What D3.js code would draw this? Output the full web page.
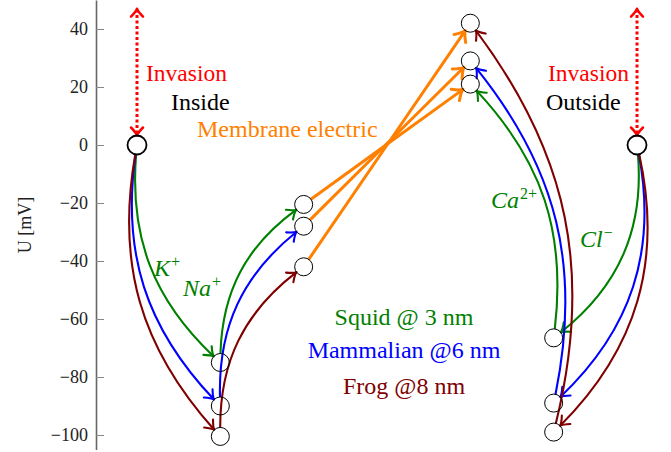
<!DOCTYPE html>
<html><head><meta charset="utf-8">
<script src="https://cdn.jsdelivr.net/npm/d3@7"></script>
<style>
body{margin:0;background:#fff}
svg{display:block}
svg text{font-family:"Liberation Serif","Times New Roman",serif;}
</style>
</head><body>
<script>
// ---- data ----
const yTicks = [-100, -80, -60, -40, -20, 0, 20, 40];
const species = ["Squid @ 3 nm", "Mammalian @6 nm", "Frog @8 nm"];
const speciesColors = ["#008000", "#0000ff", "#800000"];
const stageInside = 0, stageK = 1, stageNa = 2, stageMembrane = 4, stageCa = 5, stageOutside = 6;
const insideU = [0, 0, 0];
const kU = [-75, -90, -100.5];
const naU = [-20.5, -28, -42];
const membraneU = [21, 29, 42];
const caU = [-66.5, -89, -99];
const outsideU = [0, 0, 0];
const invasionU = 47;
const ionBase = ["K", "Na", "Ca", "Cl"];
const ionSup = ["+", "+", "2+", "−"];

// ---- layout ----
const W = 671, H = 452;
const svg = d3.select("body").append("svg").attr("width", W).attr("height", H);
const x = d3.scaleLinear().domain([0, 6]).range([137, 637]);
const y = d3.scaleLinear().domain([-105, 50]).range([449.5, 0]);
const ORANGE = "#ff8000", RED = "#ff0000";

// axis
const ax = svg.append("g").attr("transform", "translate(96,0)")
  .call(d3.axisLeft(y).tickValues(yTicks).tickSizeInner(-8).tickSizeOuter(0).tickPadding(8));
ax.attr("font-family", null);
ax.select(".domain").attr("stroke", "#666").attr("stroke-width", 1.6);
ax.selectAll(".tick line").attr("stroke", "#888").attr("stroke-width", 1);
ax.selectAll(".tick text").attr("font-size", 18).attr("fill", "#222");
svg.append("text").attr("transform", "translate(31,225) rotate(-90)")
  .attr("text-anchor", "middle").attr("font-size", 18).attr("fill", "#222")
  .text("U [mV]");

// ---- geometry helpers ----
function bendCurve(A, B, phiDeg) {
  const dx = B[0] - A[0], dy = B[1] - A[1], d = Math.hypot(dx, dy);
  const ux = dx / d, uy = dy / d, k = 0.3915 * d, p = phiDeg * Math.PI / 180;
  const c = Math.cos(p), s = Math.sin(p);
  const c1 = [A[0] + k * (ux * c - uy * s), A[1] + k * (ux * s + uy * c)];
  const c2 = [B[0] - k * (ux * c + uy * s), B[1] - k * (-ux * s + uy * c)];
  return [A, c1, c2, B];
}
function lerp(a, b, t) { return [a[0] + (b[0] - a[0]) * t, a[1] + (b[1] - a[1]) * t]; }
function casteljau(P, t) {
  const p01 = lerp(P[0], P[1], t), p12 = lerp(P[1], P[2], t), p23 = lerp(P[2], P[3], t);
  const p012 = lerp(p01, p12, t), p123 = lerp(p12, p23, t), p = lerp(p012, p123, t);
  return { left: [P[0], p01, p012, p], right: [p, p123, p23, P[3]] };
}
function bez(P, t) { return casteljau(P, t).left[3]; }
function dist(a, b) { return Math.hypot(a[0] - b[0], a[1] - b[1]); }
function clipCurve(P, rA, rB) {
  let lo = 0, hi = 0.5;
  for (let i = 0; i < 40; i++) { const m = (lo + hi) / 2; if (dist(bez(P, m), P[0]) < rA) lo = m; else hi = m; }
  const t0 = hi;
  lo = 0.5; hi = 1;
  for (let i = 0; i < 40; i++) { const m = (lo + hi) / 2; if (dist(bez(P, m), P[3]) < rB) hi = m; else lo = m; }
  const t1 = lo;
  const L = casteljau(P, t1).left;
  return casteljau(L, t0 / t1).right;
}
function arrowHead(g, tip, from, color, sw, len, hw) {
  const a = Math.atan2(tip[1] - from[1], tip[0] - from[0]) * 180 / Math.PI;
  g.append("path")
    .attr("d", `M${-len},${-hw} Q${-len * 0.35},${-hw * 0.15} 0,0 Q${-len * 0.35},${hw * 0.15} ${-len},${hw}`)
    .attr("transform", `translate(${tip[0]},${tip[1]}) rotate(${a})`)
    .attr("fill", "none").attr("stroke", color).attr("stroke-width", sw)
    .attr("stroke-linecap", "round").attr("stroke-linejoin", "round");
}
const lines = svg.append("g");
function drawArrow(A, B, phi, color, sw, rA, rB, len, hw) {
  const Q = clipCurve(bendCurve(A, B, phi), rA, rB);
  lines.append("path")
    .attr("d", `M${Q[0]}C${Q[1]} ${Q[2]} ${Q[3]}`)
    .attr("fill", "none").attr("stroke", color).attr("stroke-width", sw);
  arrowHead(lines, Q[3], Q[2], color, sw, len, hw);
}
const RBIG = 9.5, RS = 9;

// ---- transitions ----
species.forEach((sp, i) => {
  const c = speciesColors[i];
  const P0 = [x(stageInside), y(insideU[i])];
  const P1 = [x(stageK), y(kU[i])];
  const P2 = [x(stageNa), y(naU[i])];
  const P4 = [x(stageMembrane), y(membraneU[i])];
  const P5 = [x(stageCa), y(caU[i])];
  const P6 = [x(stageOutside), y(outsideU[i])];
  drawArrow(P0, P1, 27, c, 2.1, RBIG, RS, 8.5, 6);
  drawArrow(P1, P2, -28, c, 2.1, RS, RS, 8.5, 6);
  drawArrow(P2, P4, 0, ORANGE, 3, RS, RS, 9.5, 7);
  drawArrow(P5, P4, 26, c, 2.1, RS, RS, 8.5, 6);
  drawArrow(P6, P5, -30, c, 2.1, RBIG, RS, 8.5, 6);
});

// invasion arrows
[stageInside, stageOutside].forEach(s => {
  const xb = x(s), yb = y(0) - RBIG, yt = y(invasionU);
  lines.append("line").attr("x1", xb).attr("x2", xb).attr("y1", yb - 2).attr("y2", yt + 2)
    .attr("stroke", RED).attr("stroke-width", 3).attr("stroke-dasharray", "3,2.5");
  arrowHead(lines, [xb, yt], [xb, yt + 10], RED, 2.5, 8, 6);
  arrowHead(lines, [xb, yb], [xb, yb - 10], RED, 2.5, 8, 6);
});

// ---- nodes ----
const nodes = svg.append("g");
function node(px, py, r, sw) {
  nodes.append("circle").attr("cx", px).attr("cy", py).attr("r", r)
    .attr("fill", "none").attr("stroke", "#000").attr("stroke-width", sw);
}
node(x(stageInside), y(0), RBIG, 1.8);
node(x(stageOutside), y(0), RBIG, 1.8);
species.forEach((sp, i) => {
  node(x(stageK), y(kU[i]), RS, 1);
  node(x(stageNa), y(naU[i]), RS, 1);
  node(x(stageMembrane), y(membraneU[i]), RS, 1);
  node(x(stageCa), y(caU[i]), RS, 1);
});

// ---- labels ----
const T = svg.append("g");
function label(px, py, txt, color, anchor, size) {
  return T.append("text").attr("x", px).attr("y", py).attr("fill", color)
    .attr("font-size", size || 24).attr("text-anchor", anchor || "start").text(txt);
}
label(146, 81, "Invasion", RED, "start", 23.5);
label(171, 110, "Inside", "#000");
label(548, 81, "Invasion", RED, "start", 23.5);
label(546, 110, "Outside", "#000");
label(197, 137, "Membrane electric", ORANGE);
const ionPos = [[154, 276], [183, 296], [491, 208], [580, 247]];
ionBase.forEach((b, i) => {
  const t = T.append("text").attr("x", ionPos[i][0]).attr("y", ionPos[i][1])
    .attr("fill", "#008000").attr("font-size", 24).attr("font-style", "italic");
  t.append("tspan").text(b);
  t.append("tspan").attr("dx", 1).attr("dy", -9).attr("font-size", 16).attr("font-style", "normal").text(ionSup[i]);
});
const legY = [325, 358, 394];
species.forEach((sp, i) => label(404, legY[i], sp, speciesColors[i], "middle", 24));
</script>
</body></html>
